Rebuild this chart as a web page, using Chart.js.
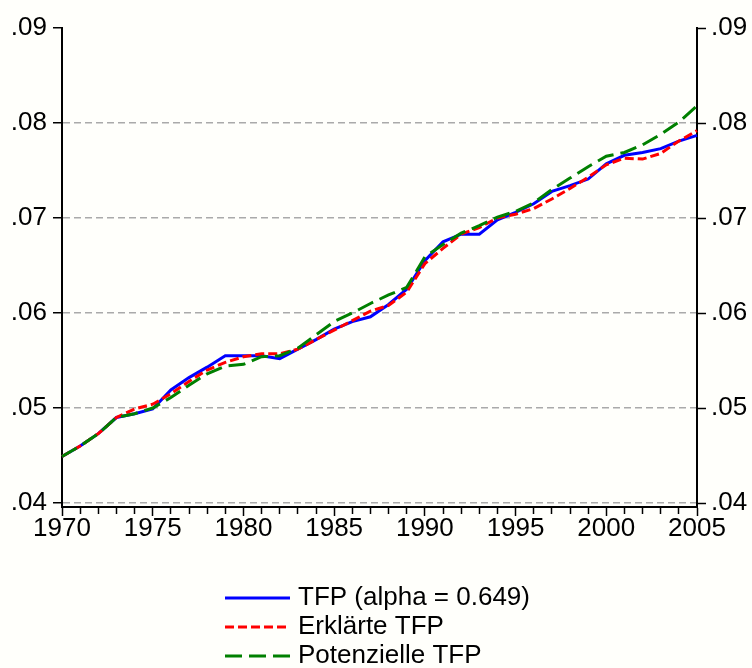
<!DOCTYPE html>
<html>
<head>
<meta charset="utf-8">
<script src="https://cdn.jsdelivr.net/npm/chart.js@4/dist/chart.umd.min.js"></script>
<style>
  html, body { margin: 0; padding: 0; background: #fffffb; }
  #wrap { width: 752px; height: 668px; }
</style>
</head>
<body>
<div id="wrap"><canvas id="c" width="752" height="668"></canvas></div>
<script>
const years = [];
for (let y = 1970; y <= 2005; y++) years.push(String(y));

const tfp = [
  0.0449, 0.0460, 0.0473, 0.0490, 0.0494, 0.0499, 0.0519, 0.0532, 0.0543, 0.0555,
  0.0555, 0.0555, 0.0552, 0.0562, 0.0572, 0.0583, 0.0591, 0.0596, 0.0609, 0.0625,
  0.0655, 0.0675, 0.0683, 0.0683, 0.0698, 0.0706, 0.0715, 0.0728, 0.0734, 0.0741,
  0.0757, 0.0766, 0.0769, 0.0773, 0.0781, 0.0787
];
const erklaert = [
  0.0449, 0.0460, 0.0473, 0.0490, 0.0499, 0.0504, 0.0515, 0.0528, 0.0540, 0.0548,
  0.0554, 0.0557, 0.0557, 0.0562, 0.0572, 0.0582, 0.0592, 0.0602, 0.0608, 0.0622,
  0.0652, 0.0668, 0.0683, 0.0690, 0.0700, 0.0704, 0.0710, 0.0720, 0.0731, 0.0743,
  0.0756, 0.0763, 0.0762, 0.0768, 0.0781, 0.0792
];
const potenziell = [
  0.0449, 0.0460, 0.0473, 0.0490, 0.0494, 0.0500, 0.0511, 0.0524, 0.0536, 0.0544,
  0.0546, 0.0554, 0.0555, 0.0563, 0.0577, 0.0591, 0.0600, 0.0610, 0.0619, 0.0627,
  0.0659, 0.0672, 0.0684, 0.0692, 0.0701, 0.0707, 0.0716, 0.0730, 0.0742, 0.0754,
  0.0765, 0.0769, 0.0777, 0.0788, 0.0801, 0.0818
];
const yTicks = [0.04, 0.05, 0.06, 0.07, 0.08, 0.09];
const seriesNames = ['TFP (alpha = 0.649)', 'Erklärte TFP', 'Potenzielle TFP'];

const FONT = '"Liberation Sans", Arial, sans-serif';

const fmt = v => '.' + Math.round(v * 100).toString().padStart(2, '0');

// legend drawn by hand: three stacked rows under the axis
const stackedLegend = {
  id: 'stackedLegend',
  afterDraw(chart) {
    const ctx = chart.ctx;
    ctx.save();
    chart.data.datasets.forEach((ds, i) => {
      const y = 598 + i * 29;
      ctx.beginPath();
      ctx.setLineDash(ds.borderDash || []);
      ctx.strokeStyle = ds.borderColor;
      ctx.lineWidth = 3;
      ctx.moveTo(225, y);
      ctx.lineTo(290, y);
      ctx.stroke();
      ctx.setLineDash([]);
      ctx.fillStyle = '#000';
      ctx.font = '26px ' + FONT;
      ctx.textBaseline = 'middle';
      ctx.fillText(ds.label, 298, y);
    });
    ctx.restore();
  }
};

// tick labels placed from the scales, same size as the legend text
const tickText = {
  id: 'tickText',
  afterDraw(chart) {
    const ctx = chart.ctx;
    const sx = chart.scales.x, yl = chart.scales.y, yr = chart.scales.y2;
    const put = (text, x, y, align) => {
      ctx.save();
      ctx.fillStyle = '#000';
      ctx.font = '26px ' + FONT;
      ctx.textAlign = align;
      ctx.textBaseline = 'middle';
      ctx.fillText(text, x, y);
      ctx.restore();
    };
    years.forEach((yr0, i) => {
      if (+yr0 % 5 === 0) put(yr0, sx.getPixelForTick(i), sx.top + 22, 'center');
    });
    yTicks.forEach(v => {
      const p = yl.getPixelForValue(v);
      put(fmt(v), yl.right - 15, p, 'right');
      put(fmt(v), yr.left + 14, p, 'left');
    });
  }
};

const bg = {
  id: 'bg',
  beforeDraw(chart) {
    const ctx = chart.ctx;
    ctx.save();
    ctx.fillStyle = '#fffffb';
    ctx.fillRect(0, 0, chart.width, chart.height);
    ctx.restore();
  }
};

const yCommon = {
  min: 0.03958,
  max: 0.09,
  afterBuildTicks: s => { s.ticks = yTicks.map(v => ({ value: v })); },
  ticks: { display: false },
  border: { color: '#000', width: 2, dash: [7, 4] }
};

new Chart(document.getElementById('c'), {
  type: 'line',
  data: {
    labels: years,
    datasets: [
      { label: seriesNames[0], data: tfp, borderColor: '#0000ff', borderWidth: 3, order: 3 },
      { label: seriesNames[1], data: erklaert, borderColor: '#ff0000', borderWidth: 3, borderDash: [9, 4], order: 2 },
      { label: seriesNames[2], data: potenziell, borderColor: '#008000', borderWidth: 3, borderDash: [17, 7], order: 1 }
    ]
  },
  options: {
    responsive: false,
    animation: false,
    elements: { point: { radius: 0 }, line: { tension: 0 } },
    layout: { padding: { top: 28, left: 0, right: 0, bottom: 0 } },
    plugins: { legend: { display: false }, tooltip: { enabled: false } },
    scales: {
      x: {
        offset: false,
        afterFit: s => { s.height = 161; },
        ticks: { autoSkip: false, display: false },
        grid: {
          drawOnChartArea: false, tickLength: 9, tickColor: '#000', tickWidth: 1.5,
          tickBorderDash: c => ((1970 + c.index) % 5 === 0 ? [] : [6, 40])
        },
        border: { color: '#000', width: 2 }
      },
      y: Object.assign({}, yCommon, {
        position: 'left',
        afterFit: s => { s.width = 62; },
        grid: {
          color: c => (c.tick && c.tick.value > 0.085 ? 'rgba(0,0,0,0)' : '#aaaaaa'),
          lineWidth: 1.5, tickLength: 9, tickColor: '#000', tickWidth: 1.5
        }
      }),
      y2: Object.assign({}, yCommon, {
        position: 'right',
        afterFit: s => { s.width = 55; },
        grid: { drawOnChartArea: false, tickLength: 9, tickColor: '#000', tickWidth: 1.5 }
      })
    }
  },
  plugins: [bg, tickText, stackedLegend]
});
</script>
</body>
</html>
